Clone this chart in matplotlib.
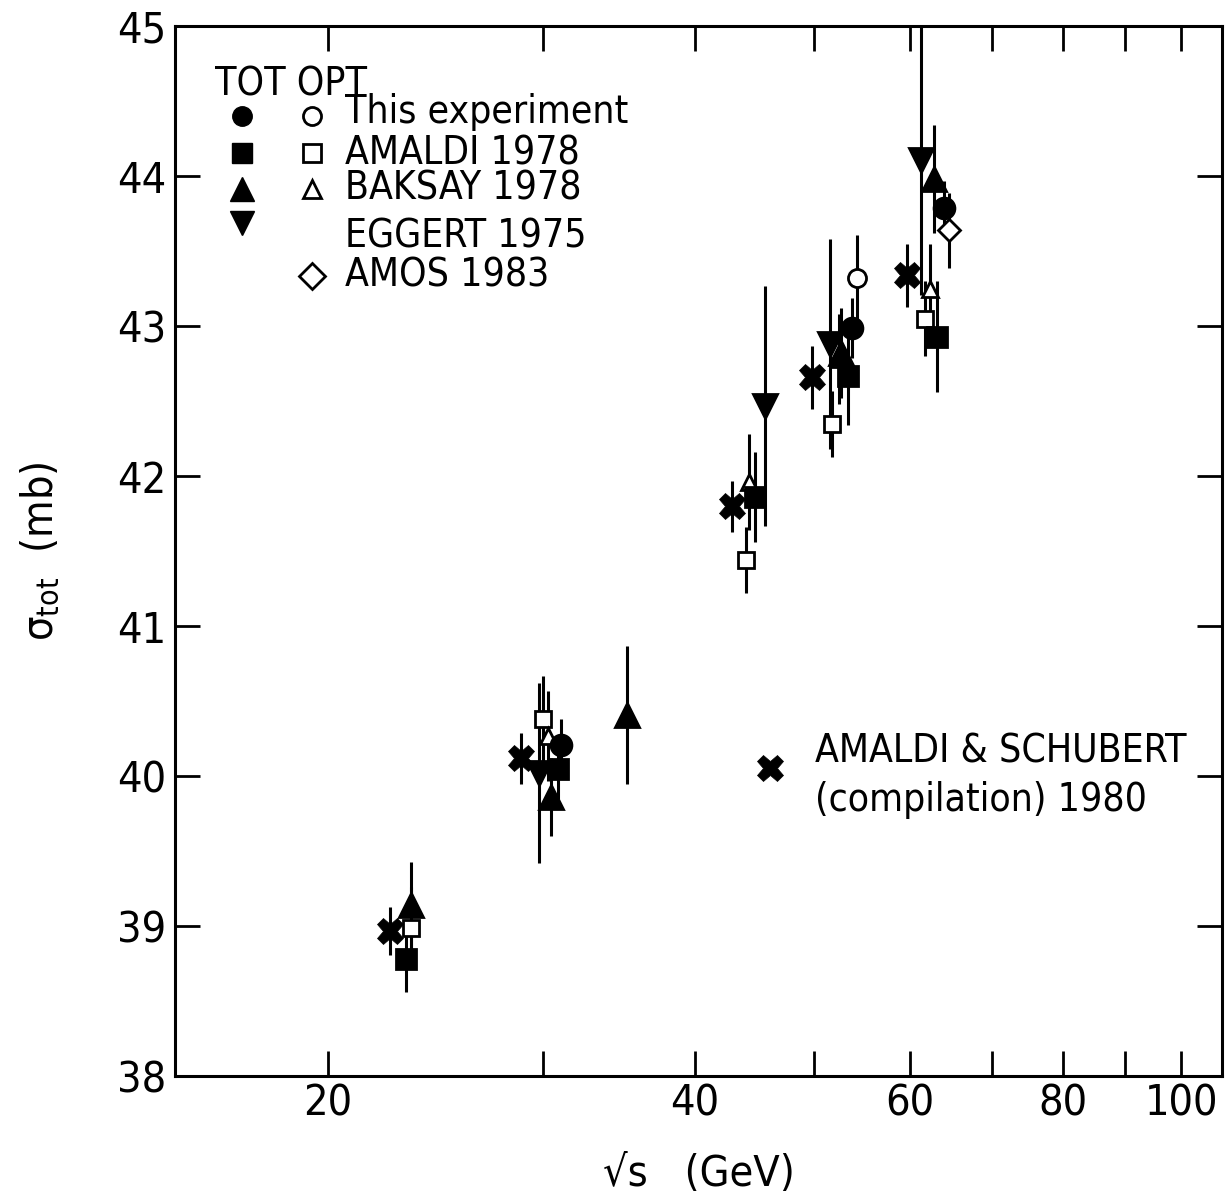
import matplotlib

matplotlib.use("Agg")
import matplotlib.pyplot as plt
from matplotlib.ticker import FixedLocator, NullLocator, FuncFormatter

plt.rcParams["font.family"] = ["DejaVu Sans"]
plt.rcParams["font.stretch"] = "condensed"
plt.rcParams["mathtext.default"] = "regular"

# sqrt(s) [GeV], sigma_tot [mb], error [mb]
this_tot_x = [31.05, 53.8, 63.9]
this_tot_y = [40.21, 42.99, 43.79]
this_tot_e = [0.17, 0.20, 0.18]

this_opt_x = [54.3]
this_opt_y = [43.32]
this_opt_e = [0.29]

amaldi_tot_x = [23.2, 30.9, 44.8, 53.4, 63.1]
amaldi_tot_y = [38.78, 40.05, 41.86, 42.67, 42.93]
amaldi_tot_e = [0.22, 0.20, 0.30, 0.33, 0.37]

amaldi_opt_x = [23.4, 30.0, 44.0, 51.8, 61.7]
amaldi_opt_y = [38.99, 40.38, 41.44, 42.35, 43.05]
amaldi_opt_e = [0.27, 0.29, 0.22, 0.22, 0.25]

baksay_tot_x = [23.4, 30.5, 35.2, 52.7, 62.7]
baksay_tot_y = [39.14, 39.86, 40.41, 42.82, 43.98]
baksay_tot_e = [0.29, 0.26, 0.46, 0.30, 0.36]

baksay_opt_x = [30.3, 44.3, 52.5, 62.3]
baksay_opt_y = [40.27, 41.96, 42.78, 43.25]
baksay_opt_e = [0.30, 0.32, 0.30, 0.30]

eggert_x = [29.8, 45.6, 51.6, 61.2]
eggert_y = [40.02, 42.47, 42.88, 44.11]
eggert_e = [0.60, 0.80, 0.70, 0.90]

amos_x = [64.6]
amos_y = [43.64]
amos_e = [0.25]

compil_x = [22.5, 28.8, 42.9, 49.9, 59.6]
compil_y = [38.97, 40.12, 41.80, 42.66, 43.34]
compil_e = [0.16, 0.17, 0.17, 0.21, 0.21]

x_ticks = [20, 30, 40, 50, 60, 70, 80, 90, 100]
x_labeled = [20, 40, 60, 80, 100]
y_ticks = [38, 39, 40, 41, 42, 43, 44, 45]

FS = 28

fig = plt.figure(figsize=(12.26, 12.0), dpi=100)
ax = fig.add_axes([0.1427, 0.1033, 0.8540, 0.8750])

ERR = dict(ecolor="black", elinewidth=2.2, capsize=0, linestyle="none", zorder=2)


def series(x, y, e, marker, ms, filled=True, mew=2.0):
    ax.errorbar(x, y, yerr=e, fmt=marker, ms=ms, mec="black",
                mfc="black" if filled else "white", mew=mew, **ERR)


series(amaldi_opt_x, amaldi_opt_y, amaldi_opt_e, "s", 12, filled=False)
series(baksay_opt_x, baksay_opt_y, baksay_opt_e, "^", 12, filled=False)
series(this_opt_x, this_opt_y, this_opt_e, "o", 13, filled=False)
series(amos_x, amos_y, amos_e, "D", 11, filled=False)
series(eggert_x, eggert_y, eggert_e, "v", 17)
series(baksay_tot_x, baksay_tot_y, baksay_tot_e, "^", 17)
series(amaldi_tot_x, amaldi_tot_y, amaldi_tot_e, "s", 14)
series(this_tot_x, this_tot_y, this_tot_e, "o", 15)
series(compil_x, compil_y, compil_e, "X", 19, mew=0.5)

ax.set_xscale("log")
ax.set_xlim(15.0, 108.0)
ax.set_ylim(38, 45)

ax.xaxis.set_major_locator(FixedLocator(x_ticks))
ax.xaxis.set_minor_locator(NullLocator())
ax.xaxis.set_major_formatter(
    FuncFormatter(lambda v, p: f"{v:.0f}" if round(v) in x_labeled else ""))
ax.yaxis.set_major_locator(FixedLocator(y_ticks))
ax.yaxis.set_minor_locator(NullLocator())

ax.tick_params(axis="both", which="major", direction="in", length=18, width=2.0,
               top=True, right=True, labelsize=FS + 3)
ax.tick_params(axis="x", pad=5)
ax.tick_params(axis="y", pad=6)
for s in ax.spines.values():
    s.set_linewidth(2.2)

ax.set_xlabel("√s   (GeV)", fontsize=FS + 3, labelpad=20)
ax.set_ylabel(r"$\sigma_{tot}$  (mb)", fontsize=FS + 3, labelpad=40)

# key, drawn in axes fraction
T = ax.transAxes
ax.text(0.038, 0.944, "TOT OPT", transform=T, fontsize=FS, va="center")
col_f, col_o, col_t = 0.064, 0.131, 0.162
key_rows = [
    ("o", "This experiment", 0.914, True, True),
    ("s", "AMALDI 1978", 0.879, True, True),
    ("^", "BAKSAY 1978", 0.845, True, True),
    ("v", "EGGERT 1975", 0.808, True, False),
    ("D", "AMOS 1983", 0.762, False, True),
]
for mk, label, yy, has_f, has_o in key_rows:
    if has_f:
        ax.plot(col_f, yy + (0.004 if mk == "v" else 0), marker=mk, ms=17 if mk in "^v" else 14,
                color="black", transform=T, clip_on=False)
    if has_o:
        ax.plot(col_o, yy, marker=mk, ms=13 if mk != "D" else 13, mfc="white", mec="black",
                mew=2.0, transform=T, clip_on=False)
    ax.text(col_t, yy + (0.004 if mk == "o" else 0) - (0.008 if mk == "v" else 0), label,
            transform=T, fontsize=FS, va="center")

ax.plot(0.568, 0.293, marker="X", ms=19, color="black", mew=0.5, transform=T)
ax.text(0.611, 0.309, "AMALDI & SCHUBERT", transform=T, fontsize=FS, va="center")
ax.text(0.611, 0.263, "(compilation) 1980", transform=T, fontsize=FS, va="center")

fig.savefig("out.png", dpi=100)
